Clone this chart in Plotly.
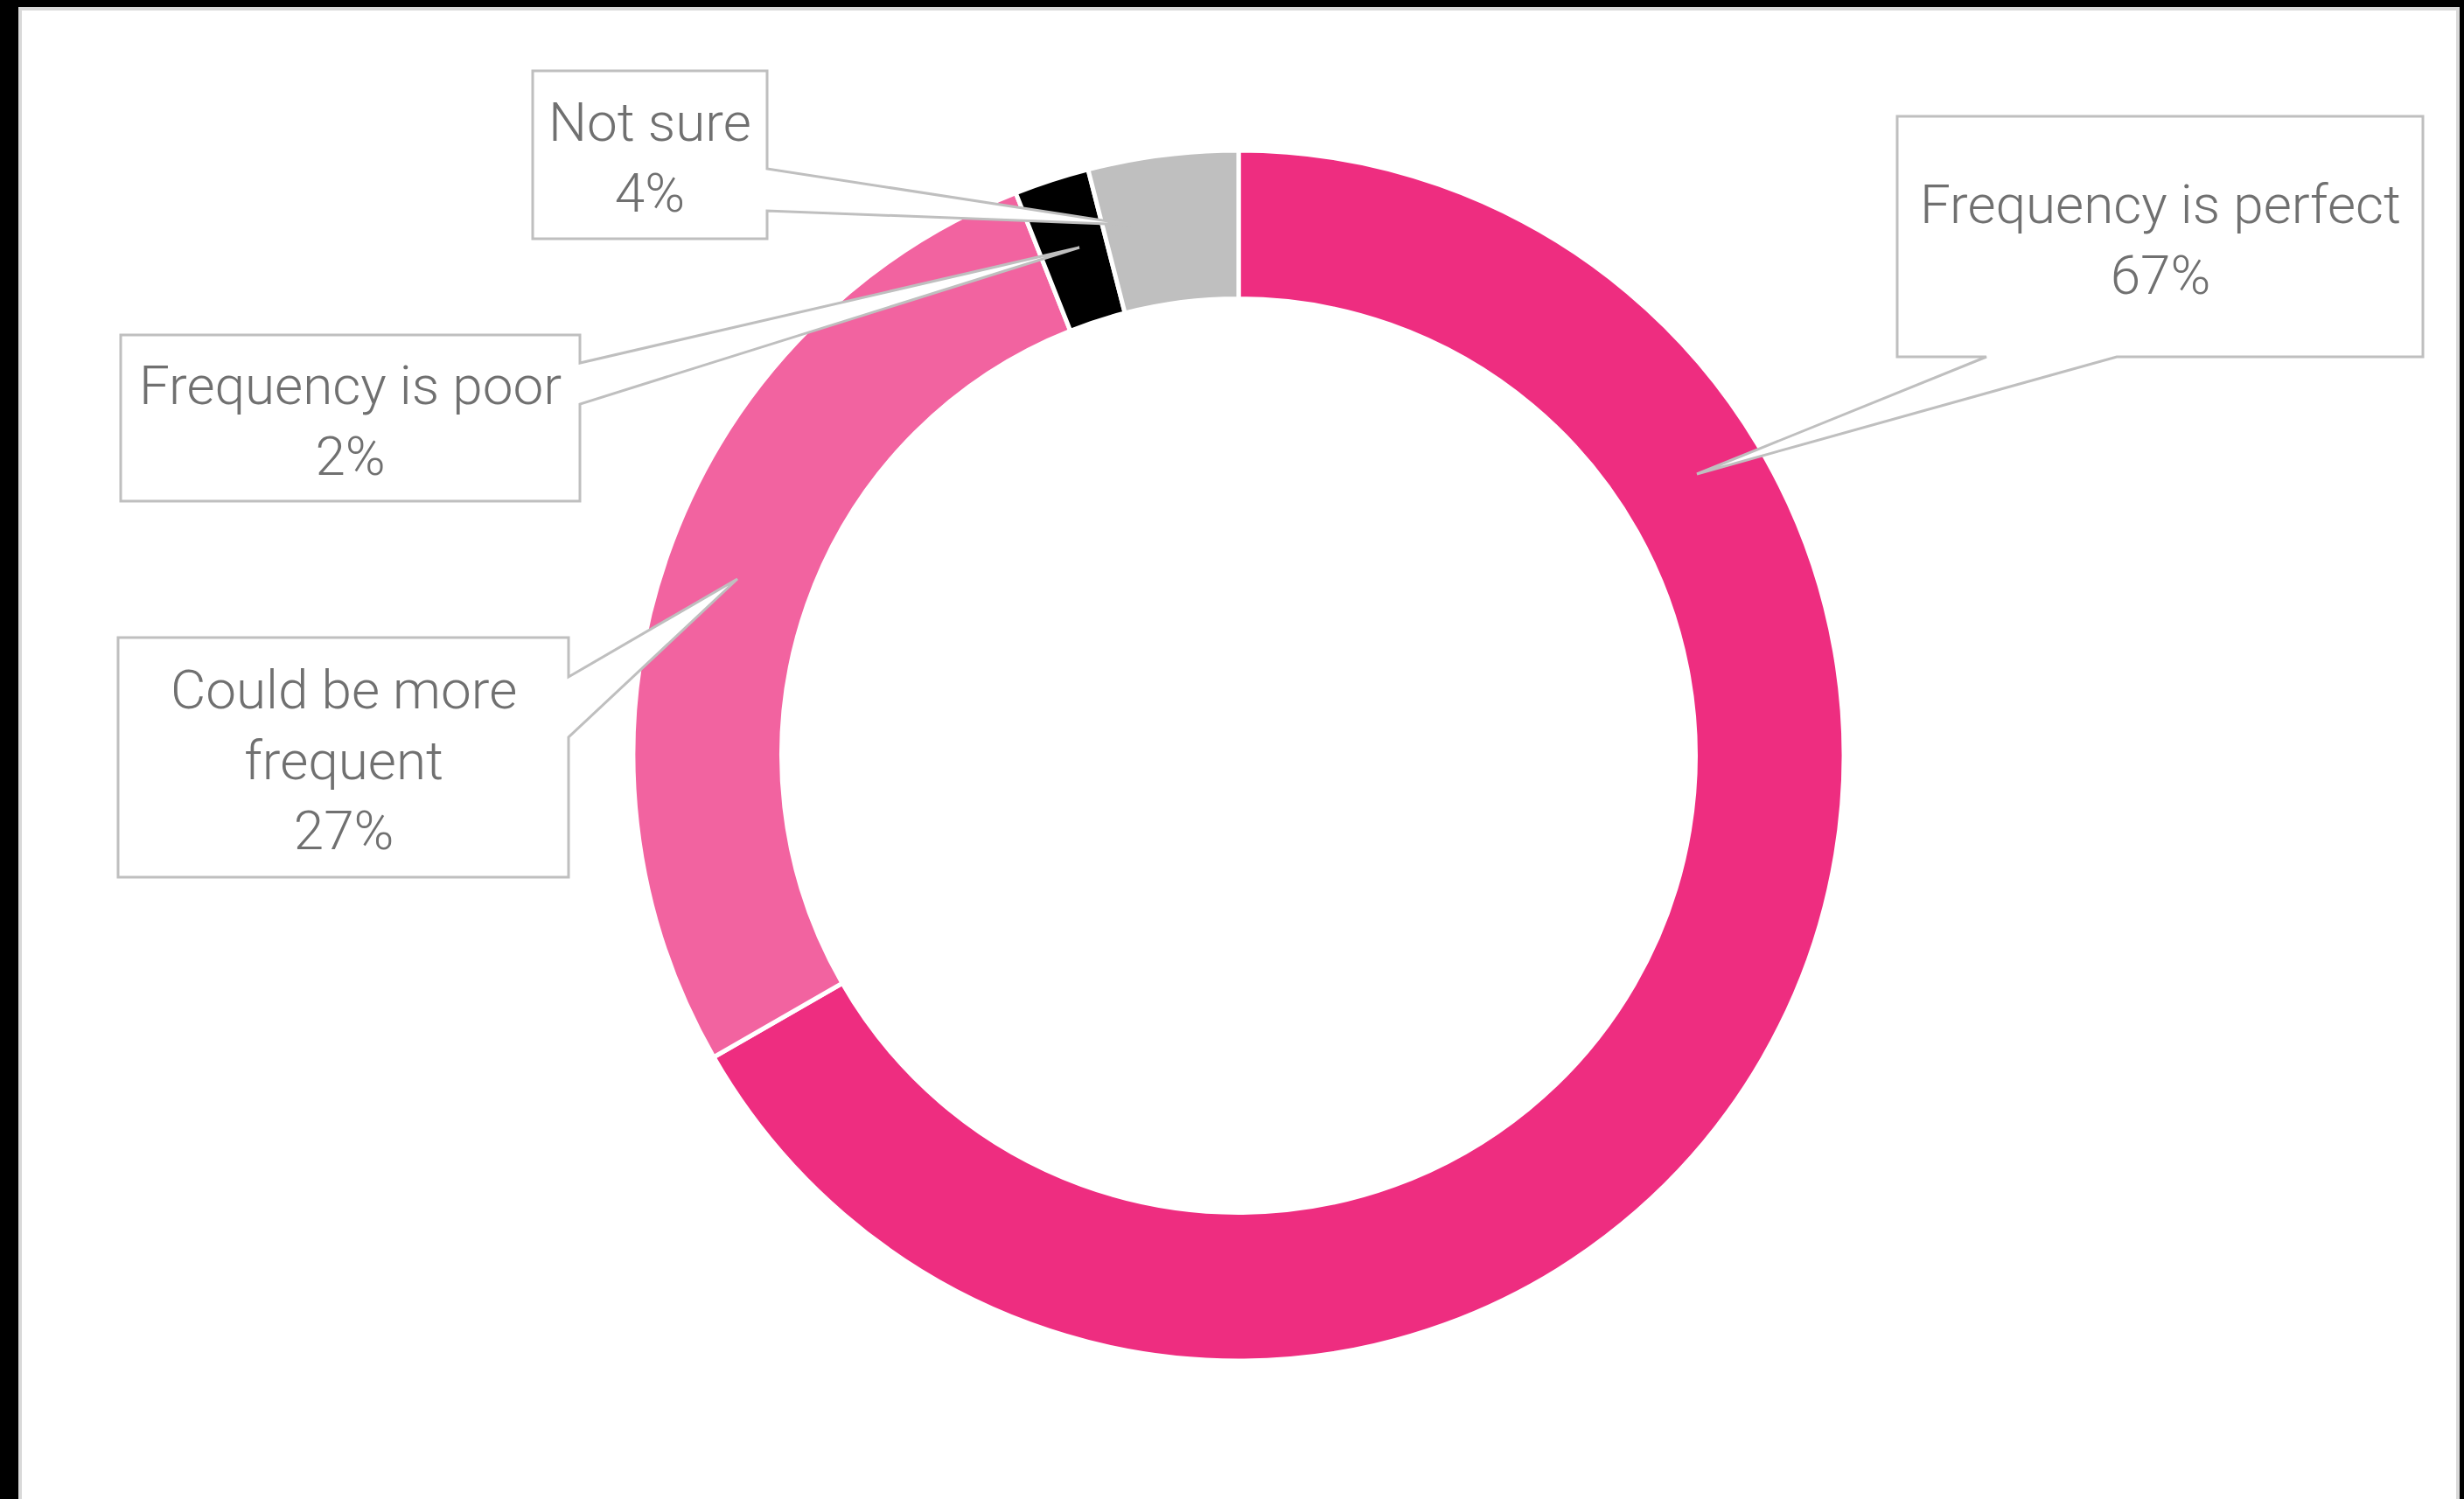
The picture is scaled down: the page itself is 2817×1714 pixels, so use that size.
import plotly.graph_objects as go

# ---- data ----
categories = ["Frequency is perfect", "Could be more frequent", "Frequency is poor", "Not sure"]
values = [66.7, 27.3, 2.0, 4.0]
colors = ["#EE2D80", "#F263A0", "#000000", "#BFBFBF"]
display_labels = ["Frequency is perfect", "Could be more<br>frequent", "Frequency is poor", "Not sure"]

W, H = 2817, 1714

# ---- callout geometry (pixel layout, top-left origin) ----
# box (x0, y0, x1, y1), side the pointer leaves from, two base points, tip
callouts = [
    dict(box=(2169, 133, 2770, 408), side="bottom", base=(2271, 2420), tip=(1940, 542)),
    dict(box=(135, 729, 650, 1003), side="right", base=(774, 843), tip=(843, 662)),
    dict(box=(138, 383, 663, 573), side="right", base=(415, 462), tip=(1234, 283)),
    dict(box=(609, 81, 877, 273), side="right", base=(193, 241), tip=(1293, 257)),
]


def px(x):
    return x / W


def py(y):
    return 1 - y / H


def callout_path(c):
    x0, y0, x1, y1 = c["box"]
    tx, ty = c["tip"]
    b1, b2 = c["base"]
    if c["side"] == "right":
        pts = [(x0, y0), (x1, y0), (x1, b1), (tx, ty), (x1, b2), (x1, y1), (x0, y1)]
    else:  # bottom
        pts = [(x0, y0), (x1, y0), (x1, y1), (b2, y1), (tx, ty), (b1, y1), (x0, y1)]
    s = "M " + " L ".join(f"{px(a):.6f},{py(b):.6f}" for a, b in pts) + " Z"
    return s


cx, cy, R = 1416, 864, 692
fig = go.Figure(
    go.Pie(
        labels=categories,
        values=values,
        marker=dict(colors=colors, line=dict(color="white", width=5)),
        hole=0.755,
        sort=False,
        direction="clockwise",
        rotation=0,
        textinfo="none",
        showlegend=False,
        domain=dict(x=[(cx - R) / W, (cx + R) / W], y=[(H - cy - R) / H, (H - cy + R) / H]),
    )
)

shapes = [
    # white chart area with light-grey border on black page
    dict(type="rect", xref="paper", yref="paper", x0=px(23), x1=px(2810), y0=-0.02, y1=py(10),
         fillcolor="white", line=dict(color="#D9D9D9", width=4), layer="below"),
]
annotations = []
total = sum(values)
for c, lab, v in zip(callouts, display_labels, values):
    shapes.append(dict(type="path", xref="paper", yref="paper", path=callout_path(c),
                       fillcolor="white", line=dict(color="#BFBFBF", width=3), layer="above"))
    x0, y0, x1, y1 = c["box"]
    annotations.append(dict(
        xref="paper", yref="paper", x=px((x0 + x1) / 2), y=py((y0 + y1) / 2 + 3),
        xanchor="center", yanchor="middle", showarrow=False, align="center",
        text=f"{lab}<br>{round(100 * v / total)}%",
        font=dict(family="Roboto", size=62, color="#707070", weight=300),
    ))

fig.update_layout(
    width=W, height=H,
    margin=dict(l=0, r=0, t=0, b=0),
    paper_bgcolor="black",
    plot_bgcolor="white",
    shapes=shapes,
    annotations=annotations,
)

fig.write_html("out.html")
